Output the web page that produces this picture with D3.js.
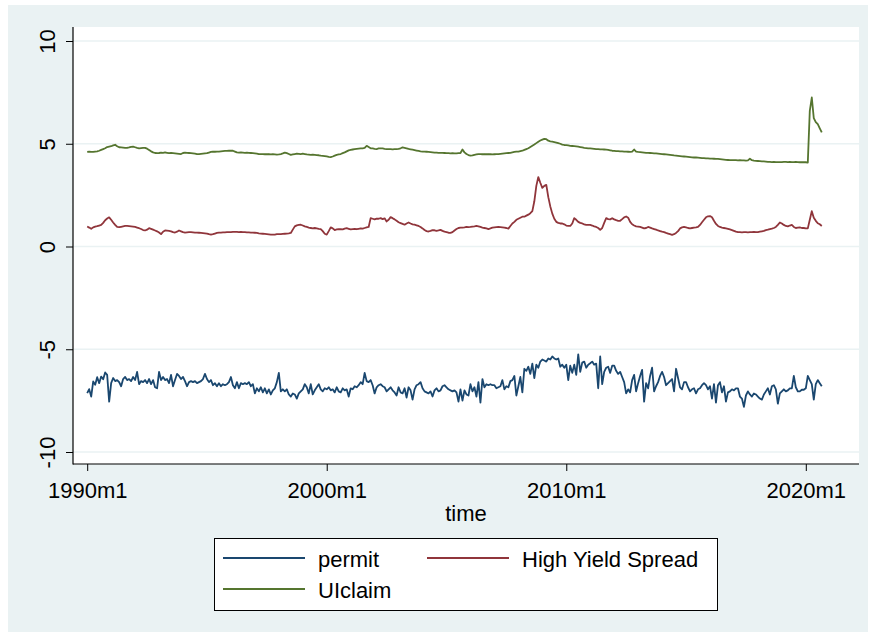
<!DOCTYPE html>
<html>
<head>
<meta charset="utf-8">
<script src="https://cdn.jsdelivr.net/npm/d3@7"></script>
<style>
    body { margin: 0; background: #ffffff; }
    svg { display: block; font-family: "Liberation Sans", Arial, Helvetica, sans-serif; }
</style>
</head>
<body>
<svg width="871" height="634"></svg>
<script>
// monthly values, 1990m1 .. 2020m9 (one row per year)
const permit = [
    -7.14,-6.94,-7.3,-6.57,-6.73,-6.36,-6.65,-6.33,-6.46,-6.13,-6.25,-7.55,
    -6.65,-6.4,-6.55,-6.5,-6.6,-6.8,-6.45,-6.35,-6.5,-6.45,-6.55,-6.35,
    -6.5,-6.1,-6.7,-6.55,-6.6,-6.5,-6.65,-6.45,-6.7,-6.5,-6.85,-6.9,
    -6.1,-6.5,-6.35,-6.5,-6.45,-6.65,-6.25,-6.8,-6.5,-6.2,-6.3,-6.45,
    -6.35,-6.55,-6.8,-6.6,-6.55,-6.6,-6.55,-6.65,-6.6,-6.55,-6.45,-6.2,
    -6.45,-6.6,-6.5,-6.75,-6.65,-6.8,-6.65,-6.8,-6.7,-6.75,-6.7,-6.6,
    -6.35,-6.75,-6.9,-6.6,-6.9,-6.65,-6.7,-6.65,-6.7,-6.6,-6.8,-6.7,
    -7.15,-6.9,-7.05,-6.85,-7.1,-6.9,-7.15,-6.95,-7.2,-7.0,-6.9,-6.6,
    -6.15,-7.05,-6.95,-7.05,-6.95,-7.2,-7.3,-7.15,-7.2,-7.4,-7.15,-7.05,
    -6.95,-6.7,-6.85,-7.15,-6.7,-7.2,-7.0,-6.85,-6.7,-6.95,-7.05,-6.9,
    -6.95,-6.85,-7.0,-6.95,-7.1,-6.85,-7.05,-7.1,-6.9,-7.0,-6.95,-7.3,
    -6.9,-6.95,-6.8,-6.85,-6.75,-6.6,-6.7,-6.15,-6.55,-6.6,-6.5,-6.75,
    -7.15,-6.85,-6.75,-6.7,-6.8,-6.85,-7.05,-6.95,-6.85,-7.0,-7.1,-7.25,
    -6.85,-7.1,-7.15,-6.9,-7.35,-6.85,-7.0,-7.45,-6.95,-6.75,-6.7,-6.6,
    -6.9,-7.05,-7.1,-7.15,-7.05,-7.3,-7.0,-6.9,-7.05,-7.0,-6.8,-6.75,
    -6.85,-6.95,-7.0,-7.05,-7.0,-7.1,-7.55,-6.95,-7.5,-7.0,-7.2,-7.25,
    -6.7,-7.05,-6.85,-7.3,-6.6,-7.6,-6.45,-6.85,-6.7,-6.75,-6.7,-6.75,
    -6.75,-6.9,-6.85,-6.8,-6.5,-6.95,-6.8,-6.85,-6.55,-6.5,-6.3,-7.25,
    -6.8,-6.35,-7.1,-5.95,-6.05,-5.85,-6.2,-5.7,-6.4,-5.75,-5.9,-5.6,
    -5.5,-5.55,-5.6,-5.45,-5.5,-5.35,-5.45,-5.5,-5.45,-5.85,-5.75,-5.9,
    -5.75,-6.5,-5.8,-6.15,-5.75,-6.25,-5.25,-6.1,-5.65,-5.6,-5.9,-5.75,
    -5.68,-5.6,-5.75,-5.7,-6.9,-5.35,-6.7,-6.1,-5.9,-5.85,-6.15,-5.8,
    -5.8,-6.05,-6.2,-6.1,-6.35,-6.6,-7.15,-6.95,-7.1,-6.5,-6.25,-7.05,
    -6.65,-6.3,-6.0,-7.55,-6.65,-6.9,-6.3,-5.9,-7.05,-6.8,-6.6,-6.3,
    -6.1,-6.35,-6.75,-6.65,-6.55,-6.45,-7.05,-5.95,-6.4,-6.85,-6.95,-6.6,
    -6.6,-6.85,-7.05,-6.95,-6.9,-7.15,-6.95,-6.9,-6.75,-6.65,-6.75,-6.95,
    -6.8,-7.4,-6.7,-7.6,-6.75,-6.6,-7.1,-6.8,-7.55,-7.1,-7.05,-6.95,
    -7.0,-6.9,-6.9,-7.3,-7.4,-7.8,-7.25,-7.05,-7.2,-7.3,-7.15,-7.2,
    -7.3,-7.4,-7.45,-7.2,-7.05,-6.9,-7.2,-6.8,-6.75,-6.95,-7.65,-7.15,
    -7.05,-6.95,-7.05,-7.0,-6.9,-6.9,-6.3,-6.85,-7.05,-7.05,-6.97,-6.97,
    -6.9,-6.3,-6.5,-6.7,-7.45,-6.7,-6.5,-6.65,-6.8
];

const spread = [
    0.97,0.92,0.86,0.93,0.97,0.99,1.02,1.05,1.15,1.28,1.36,1.42,
    1.3,1.17,1.05,0.95,0.94,0.96,0.98,1.0,1.0,0.99,0.98,0.97,
    0.95,0.92,0.89,0.85,0.8,0.78,0.82,0.89,0.86,0.82,0.78,0.74,
    0.68,0.6,0.72,0.78,0.77,0.76,0.74,0.7,0.68,0.72,0.78,0.74,
    0.7,0.68,0.69,0.7,0.7,0.69,0.68,0.68,0.67,0.66,0.65,0.64,
    0.63,0.6,0.58,0.6,0.63,0.66,0.68,0.68,0.69,0.69,0.7,0.7,
    0.7,0.71,0.71,0.71,0.7,0.71,0.7,0.7,0.69,0.69,0.68,0.68,
    0.67,0.66,0.64,0.63,0.62,0.61,0.6,0.59,0.58,0.58,0.58,0.6,
    0.6,0.6,0.61,0.62,0.63,0.64,0.66,0.82,0.98,1.03,1.05,1.06,
    1.02,0.98,0.95,0.92,0.9,0.88,0.9,0.88,0.86,0.85,0.75,0.62,
    0.58,0.75,0.93,0.88,0.8,0.83,0.85,0.84,0.83,0.87,0.89,0.86,
    0.83,0.85,0.86,0.84,0.86,0.88,0.87,0.9,0.93,0.95,1.38,1.35,
    1.32,1.36,1.35,1.38,1.33,1.37,1.22,1.3,1.43,1.38,1.32,1.25,
    1.18,1.14,1.1,1.06,1.12,1.17,1.12,1.08,1.06,1.03,1.0,0.95,
    0.88,0.8,0.75,0.73,0.76,0.8,0.79,0.76,0.78,0.81,0.76,0.72,
    0.7,0.67,0.66,0.7,0.78,0.85,0.9,0.92,0.92,0.93,0.95,0.94,
    0.95,0.97,0.98,1.0,0.98,0.95,0.92,0.9,0.88,0.85,0.88,0.92,
    0.93,0.94,0.95,0.94,0.93,0.92,0.9,0.87,1.0,1.12,1.2,1.3,
    1.35,1.4,1.45,1.45,1.5,1.55,1.62,1.72,2.2,2.95,3.38,3.1,
    2.85,2.95,3.0,2.4,1.95,1.6,1.35,1.2,1.15,1.12,1.12,1.08,
    1.02,1.0,1.0,1.12,1.38,1.3,1.2,1.15,1.12,1.08,1.05,1.05,
    1.05,1.02,0.98,0.95,0.9,0.81,0.9,1.15,1.38,1.33,1.32,1.38,
    1.32,1.28,1.25,1.25,1.33,1.42,1.46,1.4,1.2,1.08,1.02,0.98,
    0.97,0.95,0.92,0.88,0.9,0.95,0.92,0.88,0.85,0.82,0.78,0.75,
    0.72,0.7,0.66,0.63,0.6,0.57,0.6,0.66,0.75,0.88,0.93,0.95,
    0.93,0.9,0.88,0.9,0.92,0.93,0.95,1.05,1.18,1.3,1.42,1.47,
    1.48,1.42,1.25,1.1,1.0,0.95,0.92,0.9,0.88,0.86,0.83,0.8,
    0.76,0.72,0.7,0.7,0.69,0.7,0.7,0.69,0.7,0.7,0.71,0.7,
    0.7,0.72,0.74,0.76,0.8,0.82,0.85,0.87,0.9,0.95,1.05,1.17,
    1.12,1.05,1.0,0.98,1.02,1.05,0.95,0.9,0.92,0.93,0.9,0.9,
    0.88,0.88,1.3,1.72,1.4,1.25,1.13,1.08,1.0
];

const uiclaim = [
    4.6,4.61,4.6,4.6,4.62,4.63,4.66,4.7,4.74,4.78,4.84,4.86,
    4.88,4.92,4.95,4.88,4.83,4.82,4.81,4.8,4.8,4.82,4.85,4.86,
    4.83,4.8,4.78,4.79,4.8,4.8,4.76,4.7,4.63,4.58,4.55,4.54,
    4.55,4.57,4.56,4.58,4.56,4.54,4.55,4.54,4.53,4.52,4.51,4.5,
    4.55,4.57,4.56,4.55,4.54,4.53,4.52,4.5,4.5,4.51,4.52,4.53,
    4.54,4.57,4.6,4.62,4.61,4.62,4.62,4.63,4.64,4.65,4.65,4.66,
    4.67,4.66,4.62,4.58,4.57,4.58,4.57,4.56,4.57,4.56,4.55,4.54,
    4.53,4.52,4.5,4.5,4.5,4.49,4.49,4.5,4.48,4.49,4.48,4.47,
    4.48,4.5,4.53,4.57,4.54,4.5,4.46,4.48,4.5,4.52,4.51,4.5,
    4.52,4.5,4.48,4.47,4.46,4.47,4.46,4.45,4.44,4.42,4.41,4.4,
    4.38,4.36,4.35,4.38,4.42,4.46,4.48,4.5,4.54,4.58,4.63,4.68,
    4.7,4.72,4.74,4.75,4.76,4.77,4.78,4.8,4.9,4.84,4.78,4.77,
    4.75,4.74,4.77,4.78,4.77,4.75,4.74,4.74,4.74,4.73,4.74,4.74,
    4.75,4.78,4.82,4.8,4.78,4.75,4.73,4.71,4.69,4.67,4.65,4.63,
    4.62,4.62,4.61,4.6,4.59,4.58,4.57,4.57,4.56,4.56,4.56,4.55,
    4.54,4.54,4.53,4.54,4.53,4.53,4.54,4.55,4.72,4.58,4.5,4.45,
    4.42,4.43,4.46,4.48,4.5,4.5,4.49,4.5,4.49,4.5,4.49,4.48,
    4.49,4.5,4.5,4.51,4.52,4.53,4.54,4.55,4.56,4.58,4.6,4.62,
    4.62,4.64,4.66,4.7,4.74,4.78,4.84,4.9,4.96,5.03,5.1,5.16,
    5.2,5.24,5.22,5.15,5.12,5.1,5.08,5.06,5.03,5.0,4.96,4.94,
    4.93,4.92,4.9,4.89,4.88,4.87,4.86,4.84,4.82,4.8,4.79,4.78,
    4.77,4.76,4.75,4.74,4.74,4.73,4.73,4.72,4.71,4.7,4.68,4.66,
    4.65,4.64,4.64,4.63,4.63,4.62,4.62,4.61,4.6,4.62,4.72,4.62,
    4.6,4.59,4.58,4.57,4.56,4.56,4.55,4.54,4.53,4.53,4.52,4.51,
    4.5,4.49,4.48,4.47,4.46,4.45,4.43,4.42,4.41,4.4,4.39,4.38,
    4.37,4.36,4.35,4.34,4.33,4.33,4.32,4.31,4.3,4.3,4.29,4.29,
    4.28,4.28,4.27,4.26,4.26,4.25,4.24,4.23,4.22,4.21,4.2,4.2,
    4.2,4.2,4.19,4.2,4.19,4.19,4.18,4.19,4.27,4.2,4.18,4.17,
    4.16,4.15,4.14,4.14,4.13,4.12,4.12,4.11,4.12,4.11,4.11,4.11,
    4.11,4.12,4.12,4.11,4.12,4.11,4.11,4.12,4.11,4.1,4.11,4.1,
    4.1,4.08,6.6,7.25,6.25,6.05,5.95,5.75,5.55
];

const xTicks = [0, 120, 240, 360];   // months since 1990m1
const xTickLabels = ["1990m1", "2000m1", "2010m1", "2020m1"];
const yTicks = [-10, -5, 0, 5, 10];
const yTickLabels = ["-10", "-5", "0", "5", "10"];
const seriesNames = ["permit", "High Yield Spread", "UIclaim"];
const seriesColors = ["#1a476f", "#90353b", "#55752f"];
const seriesData = [permit, spread, uiclaim];

const svg = d3.select("svg");
const plot = {left: 73, right: 859, top: 27, bottom: 464};

// outer graph region and plot region
svg.append("rect")
    .attr("x", 8).attr("y", 5)
    .attr("width", 860).attr("height", 627)
    .attr("fill", "#eaf2f3");
svg.append("rect")
    .attr("x", plot.left).attr("y", plot.top)
    .attr("width", plot.right - plot.left).attr("height", plot.bottom - plot.top)
    .attr("fill", "#ffffff");

const x = d3.scaleLinear().domain([0, 360]).range([87.2, 805.8]);
const y = d3.scaleLinear().domain([-10, 10]).range([452, 41]);

// grid lines
svg.append("g")
    .selectAll("line")
    .data(yTicks)
    .enter()
    .append("line")
        .attr("x1", plot.left)
        .attr("x2", plot.right)
        .attr("y1", d => y(d))
        .attr("y2", d => y(d))
        .attr("stroke", "#eaf2f3")
        .attr("stroke-width", 1.6);

// series
const line = d3.line()
    .x((d, i) => x(i))
    .y(d => y(d));

svg.append("g")
    .selectAll("path")
    .data(seriesData)
    .enter()
    .append("path")
        .attr("d", line)
        .attr("fill", "none")
        .attr("stroke", (d, i) => seriesColors[i])
        .attr("stroke-width", 1.8)
        .attr("stroke-linejoin", "round");

// y axis
const yAxis = svg.append("g")
    .attr("transform", "translate(" + plot.left + ",0)")
    .call(d3.axisLeft(y).tickValues(yTicks).tickSize(7)
        .tickFormat((d, i) => yTickLabels[i]));
yAxis.select(".domain").remove();
yAxis.selectAll("text")
    .attr("x", 0).attr("y", 0).attr("dy", 0)
    .attr("text-anchor", "middle")
    .attr("transform", "translate(-18,0) rotate(-90)");

// x axis
const xAxis = svg.append("g")
    .attr("transform", "translate(0," + plot.bottom + ")")
    .call(d3.axisBottom(x).tickValues(xTicks).tickSize(7).tickPadding(11)
        .tickFormat((d, i) => xTickLabels[i]));
xAxis.select(".domain").remove();

svg.selectAll(".tick text")
    .attr("font-size", 22)
    .attr("font-family", "'Liberation Sans', Arial, Helvetica, sans-serif")
    .attr("fill", "#000");
svg.selectAll(".tick line").attr("stroke", "#000");

// axis lines
svg.append("line")
    .attr("x1", plot.left).attr("x2", plot.left)
    .attr("y1", plot.top).attr("y2", plot.bottom + 0.5)
    .attr("stroke", "#000").attr("stroke-width", 1.2);
svg.append("line")
    .attr("x1", plot.left).attr("x2", plot.right)
    .attr("y1", plot.bottom).attr("y2", plot.bottom)
    .attr("stroke", "#000").attr("stroke-width", 1.2);

// axis title
svg.append("text")
    .attr("x", 466).attr("y", 521)
    .attr("text-anchor", "middle")
    .attr("font-size", 22)
    .text("time");

// legend
const legend = svg.append("g");
legend.append("rect")
    .attr("x", 214.5).attr("y", 538.5)
    .attr("width", 503).attr("height", 72)
    .attr("fill", "#ffffff")
    .attr("stroke", "#000")
    .attr("stroke-width", 1);

const legendPos = [[223, 558], [427, 558], [223, 589]];
seriesNames.forEach(function(name, i) {
    const p = legendPos[i];
    legend.append("line")
        .attr("x1", p[0]).attr("x2", p[0] + 82)
        .attr("y1", p[1]).attr("y2", p[1])
        .attr("stroke", seriesColors[i])
        .attr("stroke-width", 1.8);
    legend.append("text")
        .attr("x", p[0] + 95).attr("y", p[1] + 9)
        .attr("font-size", 22)
        .text(name);
});
</script>
</body>
</html>
